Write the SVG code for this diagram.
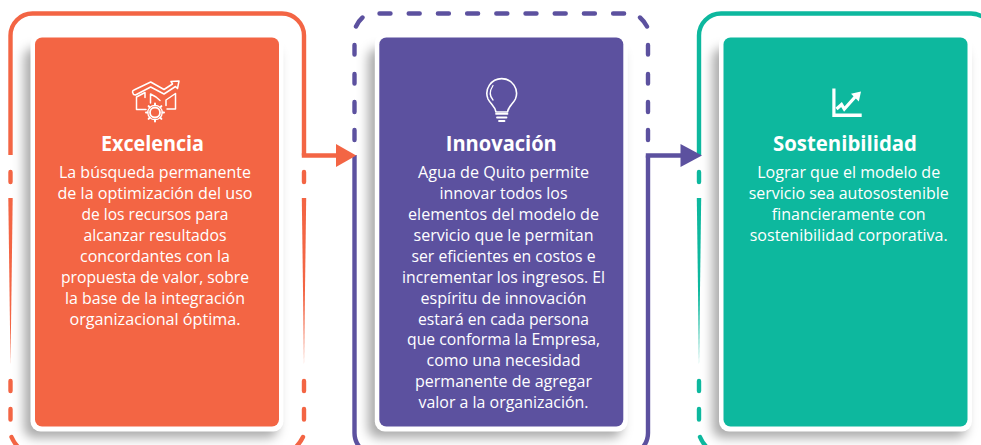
<svg xmlns="http://www.w3.org/2000/svg" width="981" height="445" viewBox="0 0 981 445">
<style>
.o{stroke:#F36544}.p{stroke:#5C519F}.t{stroke:#0DB89E}
.fo{fill:#F36544}.fp{fill:#5C519F}.ft{fill:#0DB89E}
.ln{fill:none;stroke-width:4.4}
.ds{fill:none;stroke-width:4.4;stroke-linecap:round}
.white{fill:#fff}
.shadow{fill:#000;fill-opacity:.33;filter:url(#blur)}
.ttl{font:700 20.5px "Open Sans","Noto Sans",sans-serif;fill:#fff;text-anchor:middle}
.txt{font:400 16.4px "Open Sans","Noto Sans",sans-serif;fill:#fff;text-anchor:middle}
.ic{fill:none;stroke:#fff;stroke-width:1.5;stroke-linejoin:round;stroke-linecap:round}
</style>
<defs>
<filter id="blur" x="-20%" y="-20%" width="140%" height="140%"><feGaussianBlur stdDeviation="5.500"/></filter>
</defs>
<rect width="981" height="445" fill="#fff"/>

<g id="shadows">
<rect class="shadow" x="24" y="48" width="254" height="390" rx="10"/>
<rect class="shadow" x="368" y="48" width="254" height="390" rx="10"/>
<rect class="shadow" x="712.500" y="48" width="254" height="390" rx="10"/>
</g>

<g id="node-excelencia">
<path class="ln o" d="M10.500 155V35.500a22 22 0 0 1 22-22H282a22 22 0 0 1 22 22V155.500"/>
<path class="ds o" d="M10.500 172V182M10.500 381V391M10.500 409V419.500M304 172V182M304 381V391M304 409V419.500M11.500 437Q14 443 19 448M303 437Q300 443 295 448"/>
<polygon class="fo" points="8.300,198 12.700,198 10.500,365"/>
<polygon class="fo" points="301.800,198 306.200,198 304,365"/>
<rect class="white" x="30.500" y="33" width="253" height="398.500" rx="10"/>
<rect class="fo" x="35" y="37.500" width="244" height="389" rx="7"/>
<g class="ic">
<path d="M133.500 94.500L132.500 92Q132.500 90.500 134 90L150.700 82L164 89.500L172.500 84L171 81.500L179 81L177.500 88.500L175.500 86.500L164 94L150.700 87L135.500 95Z"/>
<path d="M145 97.500V92.500L136.500 97V109.500H146"/>
<path d="M150.500 103V94L156 97L160 100.500"/>
<path d="M166 105.500V100L175.500 93.500V109H167"/>
<circle cx="155" cy="112.500" r="5" stroke-width="1.800"/>
<path d="M147.800 112.500a7.200 7.200 0 0 1 14.400 0a7.200 7.200 0 0 1-14.400 0" stroke-width="1.300"/>
<path d="M155 103.500v1.500M155 120v1.500M146 112.500h1.500M162.500 112.500h1.500M148.600 106.100l1.100 1.100M160.300 117.800l1.100 1.100M148.600 118.900l1.100-1.100M160.300 107.200l1.100-1.100" stroke-width="2"/>
</g>
<text class="ttl" x="152.500" y="150.700" textLength="103" lengthAdjust="spacingAndGlyphs">Excelencia</text>
<text class="txt" x="155" y="177.800" textLength="192" lengthAdjust="spacingAndGlyphs">La búsqueda permanente</text>
<text class="txt" x="155" y="198.800" textLength="195" lengthAdjust="spacingAndGlyphs">de la optimización del uso</text>
<text class="txt" x="155" y="219.700" textLength="147" lengthAdjust="spacingAndGlyphs">de los recursos para</text>
<text class="txt" x="155" y="240.700" textLength="143" lengthAdjust="spacingAndGlyphs">alcanzar resultados</text>
<text class="txt" x="155" y="261.600" textLength="150" lengthAdjust="spacingAndGlyphs">concordantes con la</text>
<text class="txt" x="155" y="282.600" textLength="188" lengthAdjust="spacingAndGlyphs">propuesta de valor, sobre</text>
<text class="txt" x="155" y="303.500" textLength="180" lengthAdjust="spacingAndGlyphs">la base de la integración</text>
<text class="txt" x="155" y="324.500" textLength="171" lengthAdjust="spacingAndGlyphs">organizacional óptima.</text>
</g>

<g id="node-innovacion">
<path class="ds p" d="M379.500 13.500H390.500M408.700 13.500H419.700M437.900 13.500H448.900M467.100 13.500H478.100M496.300 13.500H507.300M525.500 13.500H536.500M554.700 13.500H565.700M583.900 13.500H594.900M613.100 13.500H624.100"/>
<path class="ds p" d="M356 26.500Q358.500 21 362.500 17.500M640 17.500Q644 21 647 26.500"/>
<path class="ds p" d="M354.500 45V54.500M354.500 74V83.500M354.500 102V112M354.500 130V140M648 45V54.500M648 74V83.500M648 102V112M648 130V140"/>
<path class="ln p" d="M354.500 155V433a22 22 0 0 0 22 22H626a22 22 0 0 0 22-22V155.500"/>
<rect class="white" x="374.800" y="33" width="253" height="398.500" rx="10"/>
<rect class="fp" x="379.300" y="37.500" width="244" height="389" rx="7"/>
<g class="ic">
<path d="M496 112C495 106 490.500 104 488 99A14.800 14.800 0 1 1 515.400 99C513 104 508.500 106 507.500 112Z" stroke-width="1.600"/>
<path d="M493 100Q487.500 94 493 85.500" stroke-width="1.300"/>
<path d="M496 113.800H507.500M497 117.500H506.500M499 121H504.500" stroke-width="1.800"/>
</g>
<text class="ttl" x="501.300" y="150.700" textLength="111" lengthAdjust="spacingAndGlyphs">Innovación</text>
<text class="txt" x="503.500" y="177.800" textLength="171" lengthAdjust="spacingAndGlyphs">Agua de Quito permite</text>
<text class="txt" x="503.500" y="198.800" textLength="128" lengthAdjust="spacingAndGlyphs">innovar todos los</text>
<text class="txt" x="503.500" y="219.700" textLength="191" lengthAdjust="spacingAndGlyphs">elementos del modelo de</text>
<text class="txt" x="503.500" y="240.700" textLength="180" lengthAdjust="spacingAndGlyphs">servicio que le permitan</text>
<text class="txt" x="503.500" y="261.600" textLength="184" lengthAdjust="spacingAndGlyphs">ser eficientes en costos e</text>
<text class="txt" x="503.500" y="282.600" textLength="203" lengthAdjust="spacingAndGlyphs">incrementar los ingresos. El</text>
<text class="txt" x="503.500" y="303.500" textLength="166" lengthAdjust="spacingAndGlyphs">espíritu de innovación</text>
<text class="txt" x="503.500" y="324.500" textLength="171" lengthAdjust="spacingAndGlyphs">estará en cada persona</text>
<text class="txt" x="503.500" y="345.400" textLength="193" lengthAdjust="spacingAndGlyphs">que conforma la Empresa,</text>
<text class="txt" x="503.500" y="366.400" textLength="154" lengthAdjust="spacingAndGlyphs">como una necesidad</text>
<text class="txt" x="503.500" y="387.300" textLength="177" lengthAdjust="spacingAndGlyphs">permanente de agregar</text>
<text class="txt" x="503.500" y="408.300" textLength="170" lengthAdjust="spacingAndGlyphs">valor a la organización.</text>
</g>

<g id="node-sostenibilidad">
<path class="ln t" d="M699 155V35.500a22 22 0 0 1 22-22H971a22 22 0 0 1 22 22V155"/>
<path class="ds t" d="M699 172V182M699 381V391M699 409V419.500M700 437Q702.500 443 707.500 448"/>
<polygon class="ft" points="696.800,198 701.200,198 699,365"/>
<rect class="white" x="719" y="33" width="253" height="398.500" rx="10"/>
<rect class="ft" x="723.500" y="37.500" width="244" height="389" rx="7"/>
<path fill="#fff" d="M832.300 88.500H835.500V113.600H861.700V117H832.300Z"/>
<path fill="none" stroke="#fff" stroke-width="3.300" d="M836.500 109L841.500 104.500L844.300 109L855.500 96.500"/>
<polygon class="white" points="851,93.800 861,91.500 858.800,101.500"/>
<text class="ttl" x="845" y="150.700" textLength="144" lengthAdjust="spacingAndGlyphs">Sostenibilidad</text>
<text class="txt" x="848.700" y="177.800" textLength="183" lengthAdjust="spacingAndGlyphs">Lograr que el modelo de</text>
<text class="txt" x="848.700" y="198.800" textLength="200" lengthAdjust="spacingAndGlyphs">servicio sea autosostenible</text>
<text class="txt" x="848.700" y="219.700" textLength="154" lengthAdjust="spacingAndGlyphs">financieramente con</text>
<text class="txt" x="848.700" y="240.700" textLength="198" lengthAdjust="spacingAndGlyphs">sostenibilidad corporativa.</text>
</g>

<g id="connectors">
<path class="ln o" d="M301.800 155.500H338"/>
<polygon class="fo" points="336,144 356.200,155.500 336,167"/>
<path class="ln p" d="M645.800 155.500H682"/>
<polygon class="fp" points="680.500,144 702,155.500 680.500,167"/>
</g>
</svg>
